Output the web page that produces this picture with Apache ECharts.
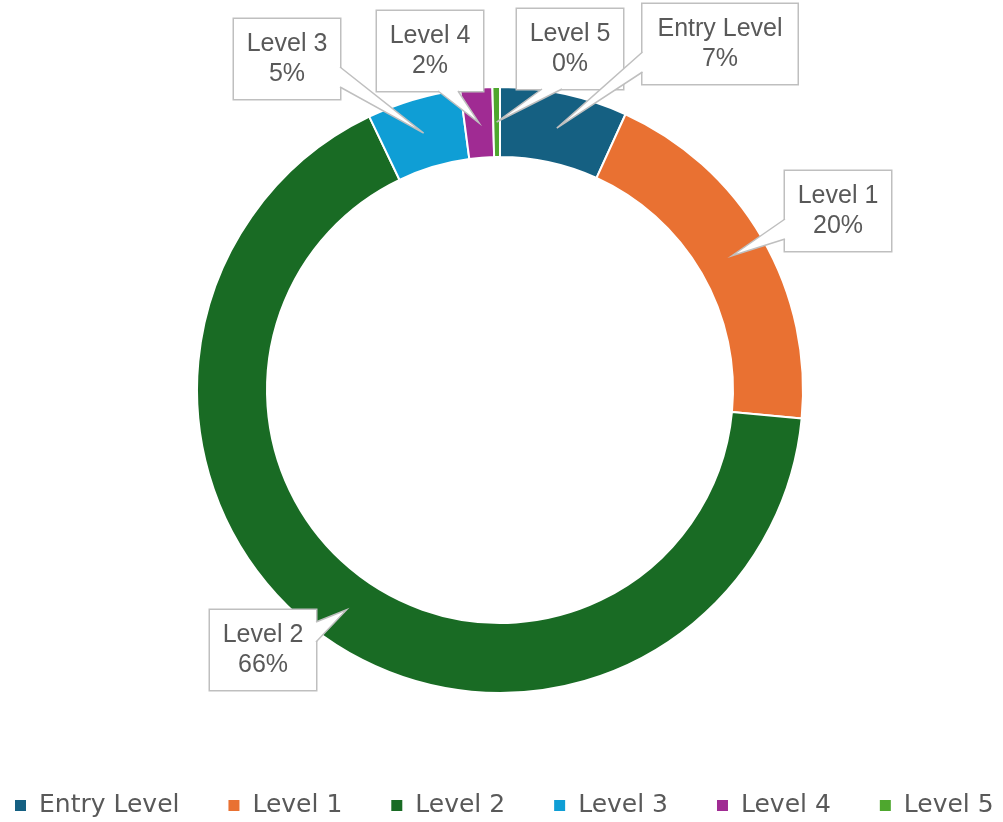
<!DOCTYPE html>
<html lang="en">
<head>
    <meta charset="UTF-8">
    <title>Levels</title>
    <script src="https://cdn.jsdelivr.net/npm/echarts@6/dist/echarts.min.js"></script>
    <style>
        html, body { margin: 0; padding: 0; background: #fff; }
        #chart { width: 1003px; height: 822px; }
    </style>
</head>
<body>
    <div id="chart"></div>
    <script type="text/javascript">
        // 数据
        var levels = ['Entry Level', 'Level 1', 'Level 2', 'Level 3', 'Level 4', 'Level 5'];
        var shares = [6.8, 19.7, 66.4, 5.0, 1.7, 0.4];
        var colors = ['#156082', '#e97132', '#196b24', '#0f9ed5', '#a02b93', '#4ea72e'];

        // callout boxes (layout only): centre and text width
        var calloutAt = [[720, 44], [838, 211], [263, 650], [287, 59], [430, 51], [570, 49]];
        var calloutW = [131, 82, 82, 82, 82, 82];
        var padV = 10, padH = 12, lineH = 30;

        var total = shares.reduce(function (a, b) { return a + b; }, 0);

        var myChart = echarts.init(document.getElementById('chart'));

        var option = {
            animation: false,
            color: colors,
            legend: {
                left: 13,
                top: 793,
                padding: 0,
                itemWidth: 13,
                itemHeight: 13,
                itemGap: 47,
                icon: 'rect',
                textStyle: {
                    fontFamily: 'DejaVu Sans',
                    fontSize: 25,
                    lineHeight: 25,
                    color: '#595959',
                    padding: [0, 0, 0, 7]
                },
                data: levels
            },
            series: [
                {
                    type: 'pie',
                    center: [500, 390],
                    radius: [233, 303],
                    startAngle: 90,
                    clockwise: true,
                    avoidLabelOverlap: false,
                    itemStyle: {
                        borderColor: '#fff',
                        borderWidth: 2
                    },
                    label: {
                        show: true,
                        position: 'outside',
                        formatter: function (p) {
                            return p.name + '\n' + Math.round(p.value / total * 100) + '%';
                        },
                        fontFamily: 'Liberation Sans',
                        fontSize: 25,
                        lineHeight: lineH,
                        color: '#595959',
                        align: 'center',
                        backgroundColor: '#fff',
                        borderColor: '#bfbfbf',
                        borderWidth: 1.5,
                        padding: [padV, padH]
                    },
                    labelLine: { show: false },
                    labelLayout: function (params) {
                        var p = calloutAt[params.dataIndex];
                        return { x: p[0], y: p[1], align: 'center', verticalAlign: 'middle' };
                    },
                    data: levels.map(function (name, i) {
                        return { name: name, value: shares[i], label: { width: calloutW[i] } };
                    })
                }
            ]
        };
        myChart.setOption(option);

        // 标注框的尖角: 尖端在扇区中线与环中间的交点
        var pieData = myChart.getModel().getSeriesByIndex(0).getData();
        var wedges = [];
        levels.forEach(function (name, i) {
            var lay = pieData.getItemLayout(i);
            var mid = (lay.startAngle + lay.endAngle) / 2;
            var rm = (lay.r + lay.r0) / 2;
            var tip = [lay.cx + rm * Math.cos(mid), lay.cy + rm * Math.sin(mid)];
            var c = calloutAt[i];
            var hw = (calloutW[i] + padH * 2) / 2;
            var hh = (lineH * 2 + padV * 2) / 2;
            var dx = tip[0] - c[0], dy = tip[1] - c[1];
            var a, b, a2, b2, off = 18, half = 10;
            if (Math.abs(dx) / hw >= Math.abs(dy) / hh) {
                var ex = c[0] + (dx > 0 ? hw : -hw);
                var my = c[1] + (dy > 0 ? off : -off);
                var inx = dx > 0 ? -3 : 3;
                a = [ex, my - half]; b = [ex, my + half];
                a2 = [ex + inx, my - half]; b2 = [ex + inx, my + half];
            } else {
                var ey = c[1] + (dy > 0 ? hh : -hh);
                var mx = c[0] + (dx > 0 ? off : -off);
                var iny = dy > 0 ? -3 : 3;
                a = [mx - half, ey]; b = [mx + half, ey];
                a2 = [mx - half, ey + iny]; b2 = [mx + half, ey + iny];
            }
            wedges.push({
                type: 'polygon',
                z: 100,
                silent: true,
                shape: { points: [a2, a, tip, b, b2] },
                style: { fill: '#fff', stroke: null }
            });
            wedges.push({
                type: 'polyline',
                z: 101,
                silent: true,
                shape: { points: [a, tip, b] },
                style: { stroke: '#bfbfbf', lineWidth: 1.5, fill: null }
            });
        });
        myChart.setOption({ graphic: { elements: wedges } });
    </script>
</body>
</html>
